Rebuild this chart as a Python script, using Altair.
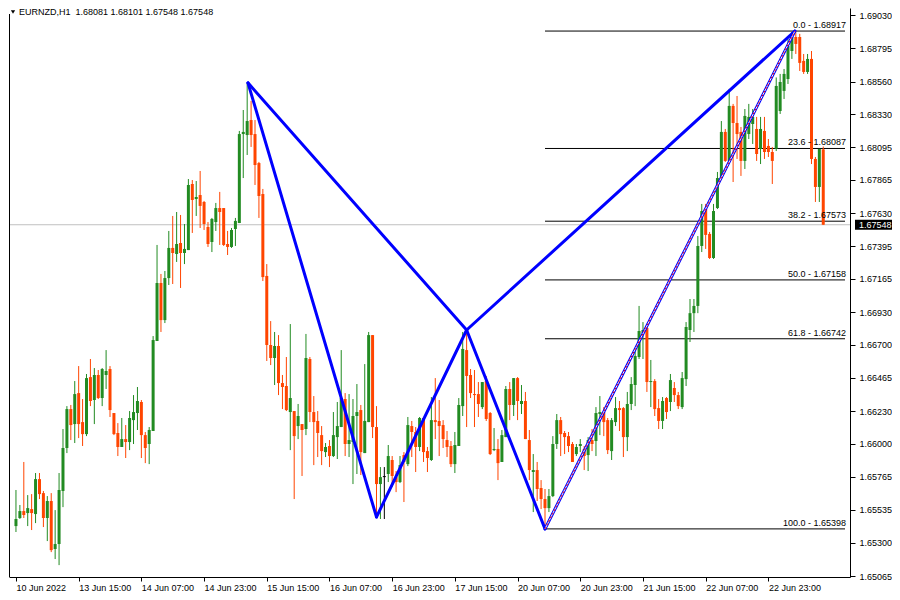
import altair as alt
import pandas as pd

FONT = "Liberation Sans"

# ---------------- data (EURNZD H1 candles) ----------------
open_ = [1.65418,1.65475,1.65524,1.65510,1.65538,1.65503,1.65750,1.65651,1.65475,1.65595,
1.65256,1.65291,1.65666,1.65970,1.66245,1.66139,1.66358,1.66153,1.66068,1.66471,
1.66309,1.66486,1.66323,1.66486,1.66528,1.66217,1.66076,1.65977,1.66033,1.66012,
1.66167,1.66217,1.66295,1.66061,1.65998,1.66090,1.66726,1.67136,1.66874,1.67171,
1.67384,1.67341,1.67419,1.67348,1.67369,1.67836,1.67730,1.67758,1.67709,1.67532,
1.67426,1.67567,1.67666,1.67666,1.67412,1.67391,1.67518,1.67560,1.68189,1.68182,
1.68288,1.68189,1.67984,1.67765,1.67186,1.66698,1.66606,1.66691,1.66429,1.66408,
1.66224,1.66231,1.66125,1.66139,1.66104,1.66599,1.66224,1.66161,1.66061,1.65941,
1.65984,1.65913,1.66047,1.66118,1.66316,1.65998,1.66012,1.66196,1.66238,1.65934,
1.66153,1.66768,1.66118,1.65715,1.65764,1.65786,1.65885,1.65764,1.65729,1.65920,
1.65856,1.66125,1.66083,1.65977,1.66182,1.65948,1.65885,1.66167,1.66161,1.66132,
1.66026,1.65984,1.65856,1.65984,1.66266,1.66662,1.66486,1.66351,1.66351,1.66259,
1.66443,1.66217,1.65955,1.65963,1.65871,1.66047,1.66387,1.66274,1.66464,1.66281,
1.66302,1.66026,1.65800,1.65814,1.65687,1.65609,1.65545,1.65630,1.65998,1.66167,
1.66076,1.66054,1.65998,1.65927,1.65984,1.65963,1.65920,1.66026,1.66019,1.66210,
1.66224,1.66167,1.65948,1.66153,1.66252,1.66252,1.66047,1.66281,1.66415,1.66613,
1.66783,1.66818,1.66436,1.66443,1.66252,1.66161,1.66323,1.66295,1.66394,1.66344,
1.66259,1.66457,1.66804,1.66923,1.66974,1.67398,1.67659,1.67483,1.67313,1.67666,
1.67878,1.68204,1.67999,1.68388,1.68267,1.68204,1.67999,1.68189,1.68260,1.68225,
1.68084,1.68211,1.68105,1.68062,1.68084,1.68352,1.68494,1.68578,1.68776,1.68875,
1.68875,1.68706,1.68628,1.68720,1.68013,1.67815,1.68081]

high = [1.65673,1.65567,1.65871,1.65637,1.65644,1.65793,1.65793,1.65666,1.65630,1.65651,
1.65531,1.65793,1.66104,1.66266,1.66274,1.66443,1.66549,1.66316,1.66493,1.66599,
1.66535,1.66521,1.66535,1.66662,1.66549,1.66217,1.66146,1.66182,1.66132,1.66231,
1.66344,1.66401,1.66309,1.66083,1.66118,1.66761,1.67405,1.67200,1.67221,1.67504,
1.67610,1.67638,1.67617,1.67553,1.67871,1.67864,1.67857,1.67928,1.67716,1.67567,
1.67596,1.67702,1.67780,1.67666,1.67504,1.67525,1.67596,1.68211,1.68359,1.68550,
1.68423,1.68288,1.67992,1.67801,1.67270,1.66867,1.66790,1.66768,1.66486,1.66613,
1.66846,1.66231,1.66281,1.66139,1.66776,1.66613,1.66337,1.66231,1.66125,1.66005,
1.66026,1.66224,1.66295,1.66662,1.66358,1.66351,1.66316,1.66422,1.66274,1.66563,
1.66790,1.66768,1.66266,1.65835,1.65835,1.65991,1.65913,1.65807,1.65913,1.65941,
1.66189,1.66161,1.66118,1.66189,1.66189,1.65977,1.66330,1.66464,1.66309,1.66167,
1.66090,1.66019,1.66083,1.66323,1.66790,1.66797,1.66528,1.66521,1.66436,1.66436,
1.66479,1.66224,1.66111,1.66033,1.66097,1.66408,1.66436,1.66464,1.66471,1.66415,
1.66366,1.66097,1.65927,1.65871,1.65743,1.65680,1.65680,1.66054,1.66210,1.66189,
1.66090,1.66083,1.66012,1.65998,1.66033,1.65984,1.66047,1.66104,1.66259,1.66337,
1.66259,1.66182,1.66182,1.66330,1.66302,1.66259,1.66366,1.66471,1.66655,1.66974,
1.66860,1.66825,1.66592,1.66457,1.66316,1.66330,1.66330,1.66493,1.66436,1.66366,
1.66507,1.66860,1.67023,1.67023,1.67468,1.67695,1.67695,1.67497,1.67695,1.67921,
1.68281,1.68225,1.68508,1.68402,1.68458,1.68239,1.68366,1.68402,1.68366,1.68310,
1.68310,1.68310,1.68154,1.68098,1.68589,1.68614,1.68649,1.68861,1.68911,1.68917,
1.68897,1.68755,1.68755,1.68776,1.68027,1.68084,1.68101]

low = [1.65376,1.65468,1.65475,1.65418,1.65390,1.65439,1.65609,1.65411,1.65312,1.65234,
1.65185,1.65142,1.65552,1.65934,1.66026,1.66005,1.66040,1.65984,1.66054,1.66266,
1.66139,1.66316,1.66266,1.66387,1.66189,1.66061,1.65913,1.65977,1.65899,1.65955,
1.65998,1.66097,1.65899,1.65863,1.65856,1.66090,1.66726,1.66790,1.66853,1.67122,
1.67129,1.67285,1.67101,1.67270,1.67369,1.67490,1.67610,1.67525,1.67511,1.67391,
1.67355,1.67504,1.67405,1.67398,1.67334,1.67384,1.67398,1.67560,1.67878,1.68041,
1.68098,1.67829,1.67596,1.67150,1.66585,1.66556,1.66415,1.66344,1.66245,1.66231,
1.65955,1.65609,1.66033,1.65772,1.66061,1.66153,1.65849,1.65906,1.65849,1.65906,
1.65835,1.65906,1.65892,1.66118,1.65913,1.65906,1.65715,1.65786,1.65779,1.65934,
1.66153,1.66040,1.65475,1.65468,1.65468,1.65729,1.65694,1.65658,1.65722,1.65588,
1.65842,1.65906,1.65800,1.65948,1.65871,1.65800,1.65878,1.66033,1.65913,1.65970,
1.65906,1.65835,1.65793,1.65984,1.66196,1.66118,1.66323,1.66118,1.66189,1.66245,
1.66161,1.65920,1.65948,1.65743,1.65871,1.66047,1.66167,1.66196,1.66167,1.66210,
1.66033,1.65743,1.65517,1.65595,1.65538,1.65398,1.65517,1.65623,1.65963,1.65913,
1.65927,1.65941,1.65871,1.65913,1.65941,1.65814,1.65807,1.65948,1.65913,1.66061,
1.66054,1.65927,1.65885,1.66125,1.66090,1.65906,1.65948,1.66238,1.66266,1.66599,
1.66599,1.66366,1.66259,1.66196,1.66104,1.66104,1.66175,1.66231,1.66295,1.66245,
1.66245,1.66408,1.66719,1.66790,1.66923,1.67355,1.67377,1.67306,1.67306,1.67659,
1.67871,1.67992,1.67992,1.67850,1.68013,1.67893,1.67942,1.68154,1.68119,1.67999,
1.67977,1.68013,1.68027,1.67836,1.68069,1.68331,1.68437,1.68543,1.68720,1.68755,
1.68635,1.68614,1.68614,1.67977,1.67709,1.67709,1.67548]

close = [1.65468,1.65524,1.65496,1.65545,1.65510,1.65750,1.65644,1.65475,1.65595,1.65248,
1.65291,1.65673,1.65970,1.66245,1.66132,1.66351,1.66139,1.66068,1.66464,1.66302,
1.66486,1.66323,1.66528,1.66514,1.66238,1.66068,1.65977,1.66033,1.66012,1.66182,
1.66224,1.66302,1.66061,1.65970,1.66097,1.66733,1.67136,1.66874,1.67171,1.67384,
1.67348,1.67412,1.67348,1.67377,1.67829,1.67723,1.67744,1.67681,1.67553,1.67412,
1.67589,1.67666,1.67638,1.67405,1.67391,1.67511,1.67575,1.68189,1.68204,1.68281,
1.68182,1.67970,1.67751,1.67178,1.66698,1.66606,1.66691,1.66429,1.66401,1.66238,
1.66323,1.66054,1.66196,1.66097,1.66606,1.66224,1.66153,1.66076,1.65948,1.65977,
1.65913,1.66061,1.66125,1.66323,1.65998,1.66026,1.66196,1.66224,1.65941,1.66161,
1.66768,1.66118,1.65715,1.65764,1.65764,1.65913,1.65772,1.65729,1.65849,1.65871,
1.66132,1.66083,1.65977,1.66182,1.65941,1.65899,1.66167,1.66153,1.66125,1.66033,
1.65977,1.65856,1.65991,1.66274,1.66670,1.66479,1.66358,1.66344,1.66281,1.66436,
1.66175,1.65927,1.65963,1.65863,1.66061,1.66387,1.66274,1.66464,1.66302,1.66302,
1.66033,1.65814,1.65814,1.65680,1.65609,1.65545,1.65630,1.65998,1.66167,1.66068,
1.66047,1.65984,1.65871,1.65977,1.65998,1.65913,1.66026,1.65998,1.66217,1.66224,
1.66153,1.65955,1.66167,1.66252,1.66238,1.66047,1.66281,1.66422,1.66620,1.66797,
1.66804,1.66436,1.66443,1.66245,1.66161,1.66302,1.66224,1.66450,1.66344,1.66266,
1.66464,1.66825,1.66923,1.66974,1.67398,1.67645,1.67476,1.67313,1.67645,1.67878,
1.68204,1.67999,1.68388,1.68267,1.68189,1.67999,1.68317,1.68310,1.68310,1.68048,
1.68225,1.68062,1.68062,1.67999,1.68529,1.68557,1.68614,1.68812,1.68875,1.68826,
1.68692,1.68628,1.68720,1.68013,1.67815,1.68084,1.67548]

# time axis labels (one every 16 bars)
time_ticks = [0, 16, 32, 48, 64, 80, 96, 112, 128, 144, 160, 176, 192]
time_labels = ["10 Jun 2022", "13 Jun 15:00", "14 Jun 07:00", "14 Jun 23:00", "15 Jun 15:00",
               "16 Jun 07:00", "16 Jun 23:00", "17 Jun 15:00", "20 Jun 07:00", "20 Jun 23:00",
               "21 Jun 15:00", "22 Jun 07:00", "22 Jun 23:00"]

price_ticks = [1.69030, 1.68795, 1.68560, 1.68330, 1.68095, 1.67865, 1.67630, 1.67395, 1.67165,
               1.66930, 1.66700, 1.66465, 1.66230, 1.66000, 1.65765, 1.65535, 1.65300, 1.65065]

# Fibonacci retracement
fib_levels = ["0.0", "23.6", "38.2", "50.0", "61.8", "100.0"]
fib_prices = [1.68917, 1.68087, 1.67573, 1.67158, 1.66742, 1.65398]
fib_start = 135

# pattern points (bar index, price)
pat_x = [59.2, 92, 115, 135, 198.75]
pat_y = [1.68551, 1.65482, 1.66804, 1.65398, 1.68917]
pat_edges = [(0, 1), (0, 2), (1, 2), (2, 3), (2, 4)]
fib_edge = (3, 4)

symbol = "EURNZD,H1"
last_price = 1.67548

# ---------------- build ----------------
W, H = 841, 569
X_MIN, X_MAX = -0.5, 211.55
xs = alt.Scale(domain=[X_MIN, X_MAX], nice=False, zero=False)
ys = alt.Scale(domain=[1.65058, 1.69080], nice=False, zero=False)

n = len(open_)
df = pd.DataFrame({"i": list(range(n)), "o": open_, "h": high, "l": low, "c": close})
df["dir"] = ["up" if c > o else ("down" if c < o else "flat") for o, c in zip(df.o, df.c)]
df["bot"] = df[["o", "c"]].min(axis=1)
df["top"] = df[["o", "c"]].max(axis=1)
df["top"] = [max(t, b + 0.00007) for t, b in zip(df.top, df.bot)]

cscale = alt.Scale(domain=["up", "down", "flat"], range=["#228B22", "#FF4500", "#000000"])

label_expr = "[" + ",".join("'%s'" % s for s in time_labels) + "][round(datum.value / 16)]"
x_axis = alt.Axis(values=time_ticks, labelExpr=label_expr, labelAlign="left", labelPadding=2,
                  tickSize=4, tickColor="black", domainColor="black", labelColor="black",
                  labelFont=FONT, labelFontSize=9, title=None, grid=False,
                  labelFlush=False, labelOverlap=False)
y_axis = alt.Axis(orient="right", values=price_ticks, format=".5f", tickSize=5, labelPadding=4,
                  tickColor="black", domainColor="black", labelColor="black",
                  labelFont=FONT, labelFontSize=9, title=None, grid=False,
                  labelFlush=False, labelOverlap=False)

def X(f):
    return alt.X(f, scale=xs, axis=x_axis)

def Y(f):
    return alt.Y(f, scale=ys, axis=y_axis)

base = alt.Chart(df)
wicks = base.mark_rule(strokeWidth=1, clip=True).encode(
    x=X("i:Q"), y=Y("l:Q"), y2="h:Q",
    color=alt.Color("dir:N", scale=cscale, legend=None),
)
bodies = base.mark_bar(size=3, clip=True).encode(
    x=X("i:Q"), y=Y("bot:Q"), y2="top:Q",
    color=alt.Color("dir:N", scale=cscale, legend=None),
)

price_line = alt.Chart(pd.DataFrame({"p": [last_price]})).mark_rule(
    color="#C0C0C0", strokeWidth=1).encode(y=Y("p:Q"))

left_edge = alt.Chart(pd.DataFrame({"p": [last_price]})).mark_rule(
    color="black", strokeWidth=1).encode(x=alt.value(0.5), y=alt.value(6), y2=alt.value(H))

fib_df = pd.DataFrame({
    "start": [fib_start] * len(fib_prices),
    "end": [X_MAX] * len(fib_prices),
    "p": fib_prices,
    "lbl": ["%s - %.5f" % (lv, p) for lv, p in zip(fib_levels, fib_prices)],
})
fib_rules = alt.Chart(fib_df).mark_rule(color="black", strokeWidth=1).encode(
    x=X("start:Q"), x2="end:Q", y=Y("p:Q"))
fib_text = alt.Chart(fib_df).mark_text(align="right", baseline="alphabetic", dy=-3, dx=1,
                                        font=FONT, fontSize=9, color="black").encode(
    x=X("end:Q"), y=Y("p:Q"), text="lbl:N")

seg_df = pd.DataFrame({
    "x1": [pat_x[a] for a, b in pat_edges], "y1": [pat_y[a] for a, b in pat_edges],
    "x2": [pat_x[b] for a, b in pat_edges], "y2": [pat_y[b] for a, b in pat_edges],
})
cd_df = pd.DataFrame({"x1": [pat_x[fib_edge[0]]], "y1": [pat_y[fib_edge[0]]],
                      "x2": [pat_x[fib_edge[1]]], "y2": [pat_y[fib_edge[1]]]})

def seg_layer(d, **kw):
    return alt.Chart(d).mark_rule(**kw).encode(
        x=X("x1:Q"), y=Y("y1:Q"), x2="x2:Q", y2="y2:Q")

pattern = seg_layer(seg_df, color="#0000FF", strokeWidth=3, strokeCap="round")
cd_blue = seg_layer(cd_df, color="#0000FF", strokeWidth=3, strokeCap="round")
cd_white = seg_layer(cd_df, color="#FFFFFF", strokeWidth=1)
cd_red = seg_layer(cd_df, color="#FF0000", strokeWidth=1, strokeDash=[2, 2])

tag_df = pd.DataFrame({"p": [last_price], "hi": [last_price + 0.00036], "lo": [last_price - 0.00036],
                       "lbl": ["%.5f" % last_price]})
tag_box = alt.Chart(tag_df).mark_rect(color="black").encode(
    x=alt.value(W + 5), x2=alt.value(W + 42), y=Y("hi:Q"), y2="lo:Q")
tag_txt = alt.Chart(tag_df).mark_text(align="left", baseline="middle", color="white",
                                      font=FONT, fontSize=9).encode(
    x=alt.value(W + 9), y=Y("p:Q"), text="lbl:N")

hdr_df = pd.DataFrame({"t": [symbol + "\u00a0\u00a0" + " ".join("%.5f" % v for v in
                                                        [open_[-1], high[-1], low[-1], close[-1]])]})
hdr_txt = alt.Chart(hdr_df).mark_text(align="left", baseline="middle", font=FONT, fontSize=9,
                                      color="black").encode(
    x=alt.value(10), y=alt.value(4), text="t:N")
hdr_tri = alt.Chart(hdr_df).mark_point(shape="triangle-down", filled=True, color="black",
                                       size=18, opacity=1).encode(
    x=alt.value(4), y=alt.value(4))

chart = alt.layer(
    price_line, left_edge, fib_rules, wicks, bodies, pattern, cd_blue, cd_white, cd_red,
    fib_text, tag_box, tag_txt, hdr_txt, hdr_tri
).properties(width=W, height=H, padding=0, background="white").configure_view(
    strokeWidth=0
).configure_axis(labelOverlap=False)

chart.save("out.html", embed_options={"renderer": "svg", "actions": False})
